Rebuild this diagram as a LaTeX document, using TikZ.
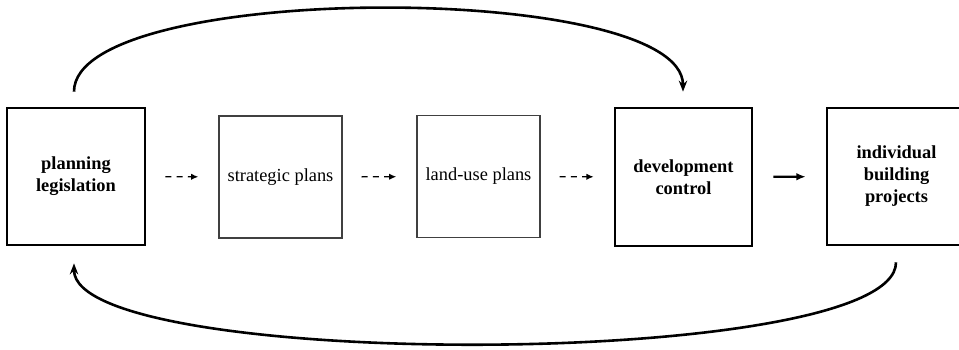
\documentclass[tikz,border=0pt]{standalone}
\usepackage{fontspec}
\setmainfont{Liberation Serif}[BoldFont={Liberation Serif Bold}]
\usetikzlibrary{arrows.meta}
\begin{document}
\begin{tikzpicture}[x=0.5pt,y=-0.5pt,
  thickbox/.style={draw=black,line width=1.35pt,inner sep=0pt,align=center,
    font=\fontsize{9.2pt}{11pt}\selectfont\bfseries},
  thinbox/.style={draw=black!75,line width=0.65pt,inner sep=0pt,align=center,
    font=\fontsize{9.2pt}{11pt}\selectfont},
  dasharrow/.style={line width=0.7pt,dash pattern=on 3pt off 2.6pt,
    -{Latex[length=3.6pt,width=3.2pt]},shorten <=9.5pt,shorten >=10pt},
  solidarrow/.style={line width=1.2pt,-{Latex[length=4.6pt,width=3.8pt]},
    shorten <=10pt,shorten >=10pt},
  curvearrow/.style={line width=1.3pt,-{Stealth[length=5.5pt,width=4.2pt]}}]
\useasboundingbox (0,0) rectangle (959,349);
\clip (0,0) rectangle (959,349);
\node[thickbox,minimum width=69pt,minimum height=68.5pt] (pl) at (76,176.5) {planning\\legislation};
\node[thinbox,minimum width=61.5pt,minimum height=61pt] (sp) at (280.5,177) {strategic plans};
\node[thinbox,minimum width=61.5pt,minimum height=61pt] (lu) at (478.5,176.5) {land-use plans};
\node[thickbox,minimum width=68.5pt,minimum height=69pt] (dc) at (683.5,177) {development\\control};
\node[thickbox,minimum width=69.5pt,minimum height=68.5pt] (ib) at (896.5,176.5) {individual\\building\\projects};
\draw[dasharrow] (pl) -- (sp);
\draw[dasharrow] (sp) -- (lu);
\draw[dasharrow] (lu) -- (dc);
\draw[solidarrow] (dc) -- (ib);
\draw[curvearrow] ([shift={(-2,-15)}]pl.north) .. controls +(0,-111) and +(0,-111) .. ([shift={(-0.5,-15)}]dc.north);
\draw[curvearrow] ([shift={(-0.5,16)}]ib.south) .. controls +(0,108) and +(0,108) .. ([shift={(-2,17)}]pl.south);
\end{tikzpicture}
\end{document}
